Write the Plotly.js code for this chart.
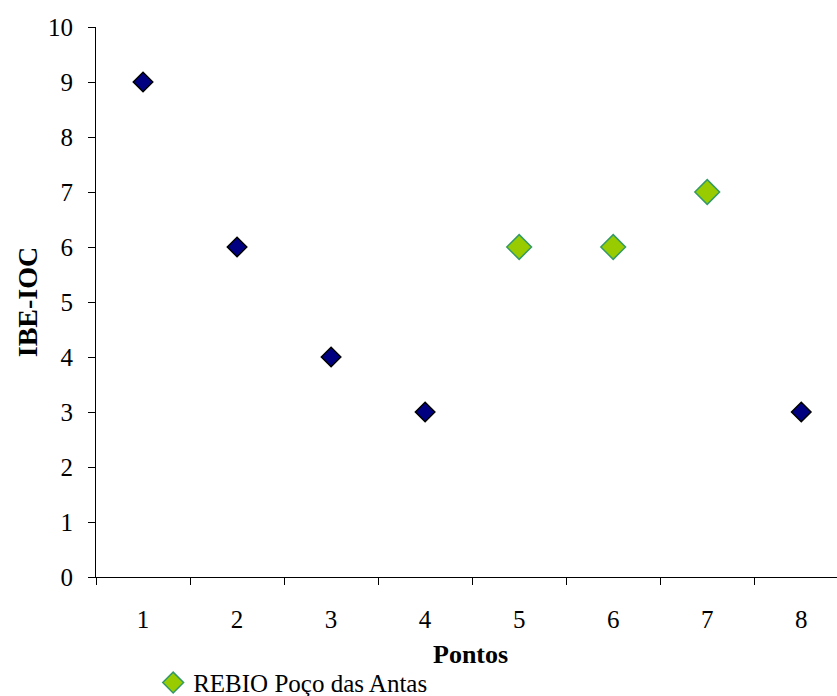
<!DOCTYPE html>
<html><head><meta charset="utf-8">
<script src="https://cdn.plot.ly/plotly-3.0.1.min.js"></script>
<style>body{margin:0;background:#fff}#c{width:837px;height:696px}</style>
</head><body><div id="c"></div>
<script>
const categories = ['1','2','3','4','5','6','7','8'];
const otherValues = [9, 6, 4, 3, null, null, null, 3];
const rebioValues = [null, null, null, null, 6, 6, 7, null];
const rebioName = 'REBIO Poço das Antas';
const xTitle = 'Pontos';
const yTitle = 'IBE-IOC';

const font = {family: 'Liberation Serif, Times New Roman, serif', color: '#000'};

const traces = [
  {x: categories, y: otherValues, type: 'scatter', mode: 'markers', showlegend: false,
   marker: {symbol: 'diamond', size: 15, color: '#000080', line: {color: '#000', width: 1.5}}},
  {x: categories, y: rebioValues, type: 'scatter', mode: 'markers', name: rebioName,
   marker: {symbol: 'diamond', size: 19, color: '#99cc00', line: {color: '#339966', width: 1.5}}}
];

const layout = {
  width: 837, height: 696,
  margin: {l: 96, r: 0, t: 27, b: 119, autoexpand: false},
  paper_bgcolor: '#fff', plot_bgcolor: '#fff',
  font: Object.assign({size: 25}, font),
  showlegend: true,
  legend: {orientation: 'h', xref: 'container', yref: 'container', x: 0.183, y: 0.019, xanchor: 'left', yanchor: 'middle',
           font: Object.assign({size: 25}, font), bgcolor: 'rgba(0,0,0,0)'},
  xaxis: {type: 'category', range: [-0.5, 7.38], tickson: 'boundaries', automargin: false,
          ticks: 'outside', ticklen: 7, tickcolor: '#000', showline: true, linecolor: '#000', linewidth: 1,
          ticklabelstandoff: 20,
          showgrid: false, zeroline: false, tickfont: Object.assign({size: 25}, font)},
  yaxis: {range: [0, 10], dtick: 1, ticks: 'outside', ticklen: 7, tickcolor: '#000', automargin: false,
          showline: true, linecolor: '#000', linewidth: 1, showgrid: false, zeroline: false,
          ticklabelstandoff: 10,
          tickfont: Object.assign({size: 25}, font),
          title: {text: '<b>' + yTitle + '</b>', font: Object.assign({size: 28}, font), standoff: 2}},
  annotations: [
    {text: '<b>' + xTitle + '</b>', xref: 'paper', yref: 'paper', x: 0.505, y: -0.1418,
     xanchor: 'center', yanchor: 'middle', showarrow: false, font: Object.assign({size: 26}, font)}
  ]
};
Plotly.newPlot('c', traces, layout, {displayModeBar: false, staticPlot: true});
</script></body></html>
